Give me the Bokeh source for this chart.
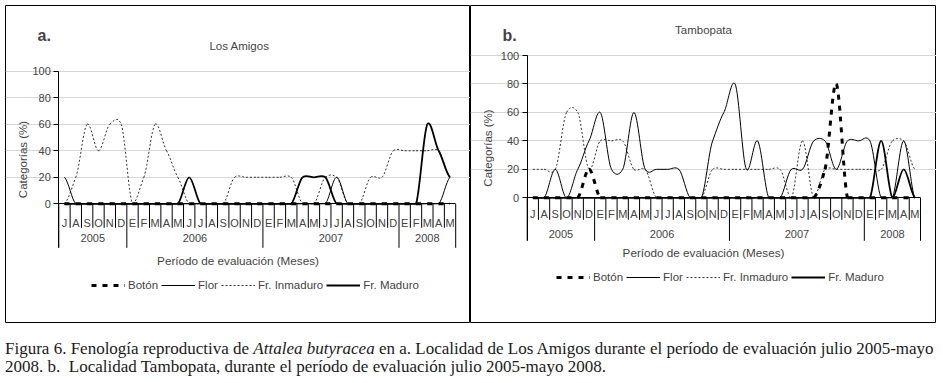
import numpy as np
from bokeh.plotting import figure
from bokeh.models import (Range1d, LinearAxis, FixedTicker, Grid, Legend, LegendItem,
                          Label, Div, ColumnDataSource, Spacer)
from bokeh.layouts import row, column
from bokeh.embed import file_html
from bokeh.resources import INLINE

# ---------------- data ----------------
months = ["J", "A", "S", "O", "N", "D",
          "E", "F", "M", "A", "M", "J", "J", "A", "S", "O", "N", "D",
          "E", "F", "M", "A", "M", "J", "J", "A", "S", "O", "N", "D",
          "E", "F", "M", "A", "M"]
years = ["2005", "2006", "2007", "2008"]
months_per_year = [6, 12, 12, 5]
series_names = ["Botón", "Flor", "Fr. Inmaduro", "Fr. Maduro"]

# a. Los Amigos (%)
amigos_boton = [0, 0, 0, 0, 0, 0,
                0, 0, 0, 0, 0, 0, 0, 0, 0, 0, 0, 0,
                0, 0, 0, 0, 0, 0, 0, 0, 0, 0, 0, 0,
                0, 0, 0, 0, 0]
amigos_flor = [20, 0, 0, 0, 0, 0,
               0, 0, 0, 0, 0, 0, 0, 0, 0, 0, 0, 0,
               0, 0, 0, 0, 0, 0, 20, 0, 0, 0, 0, 0,
               0, 0, 0, 0, 20]
amigos_inmaduro = [0, 20, 60, 40, 60, 60,
                   0, 20, 60, 40, 20, 0, 0, 0, 0, 20, 20, 20,
                   20, 20, 20, 0, 0, 20, 20, 0, 0, 20, 20, 40,
                   40, 40, 40, 40, 20]
amigos_maduro = [0, 0, 0, 0, 0, 0,
                 0, 0, 0, 0, 0, 20, 0, 0, 0, 0, 0, 0,
                 0, 0, 0, 20, 20, 20, 0, 0, 0, 0, 0, 0,
                 0, 0, 60, 40, 20]

# b. Tambopata (%)
tambo_boton = [0, 0, 0, 0, 0, 20,
               0, 0, 0, 0, 0, 0, 0, 0, 0, 0, 0, 0,
               0, 0, 0, 0, 0, 0, 0, 0, 20, 80, 0, 0,
               0, 0, 0, 0, 0]
tambo_flor = [0, 0, 20, 0, 20, 40,
              60, 20, 20, 60, 20, 20, 20, 20, 0, 0, 40, 60,
              80, 20, 40, 0, 0, 20, 20, 40, 40, 20, 40, 40,
              40, 0, 0, 40, 0]
tambo_inmaduro = [20, 20, 20, 60, 60, 20,
                  40, 40, 40, 20, 20, 0, 0, 0, 0, 0, 20, 20,
                  20, 20, 20, 20, 20, 0, 40, 0, 20, 20, 20, 20,
                  20, 20, 40, 40, 20]
tambo_maduro = [0, 0, 0, 0, 0, 0,
                0, 0, 0, 0, 0, 0, 0, 0, 0, 0, 0, 0,
                0, 0, 0, 0, 0, 0, 0, 0, 0, 0, 0, 0,
                0, 40, 0, 20, 0]

FONT = "Liberation Sans"
TENSION = 0.7

STYLES = {
    "Botón": dict(line_color="black", line_width=3, line_dash="5 6"),
    "Flor": dict(line_color="black", line_width=1),
    "Fr. Inmaduro": dict(line_color="#333333", line_width=1, line_dash="2 2"),
    "Fr. Maduro": dict(line_color="black", line_width=1.8),
}
DRAW_ORDER = ["Fr. Inmaduro", "Flor", "Fr. Maduro", "Botón"]


def smooth_source(ys):
    """Excel-like smoothed line: cubic Bezier segments between the monthly points."""
    y = np.asarray(ys, dtype=float)
    x = np.arange(len(y), dtype=float)
    ext = np.concatenate([[y[0]], y, [y[-1]]])
    m = TENSION * (ext[2:] - ext[:-2]) / 2.0
    cy0 = np.maximum(y[:-1] + m[:-1] / 3, 0)
    cy1 = np.maximum(y[1:] - m[1:] / 3, 0)
    return ColumnDataSource(dict(
        x0=x[:-1], y0=y[:-1], x1=x[1:], y1=y[1:],
        cx0=x[:-1] + 1 / 3, cy0=cy0, cx1=x[1:] - 1 / 3, cy1=cy1))


def make_panel(series, g):
    n = len(months)
    W, H = g["W"], g["H"]
    # pixel geometry of the plotting area inside this canvas
    left, right, top0, bot0 = g["plot_px"]        # x of first/last month edge, y of 100 and 0
    ux = (right - left) / n
    uy = (bot0 - top0) / 100.0
    x_start = -0.5 - left / ux
    x_end = n - 0.5 + (W - right) / ux
    y_start = -(H - bot0) / uy
    y_end = 100 + top0 / uy

    p = figure(width=W, height=H,
               x_range=Range1d(x_start, x_end), y_range=Range1d(y_start, y_end),
               x_axis_type=None, y_axis_type=None,
               output_backend="svg", toolbar_location=None, min_border=0)
    p.outline_line_color = "black"
    p.outline_line_width = 1
    p.background_fill_color = "white"
    p.border_fill_color = "white"

    y_month_sep = -g["sep_m"] / uy
    y_year_sep = -g["sep_y"] / uy

    # y axis + grid
    yaxis = LinearAxis(ticker=FixedTicker(ticks=[0, 20, 40, 60, 80, 100]),
                       fixed_location=-0.5, bounds=(y_year_sep, 100),
                       axis_label="Categorías (%)",
                       axis_label_text_font=FONT, axis_label_text_font_size="11.5px",
                       axis_label_text_font_style="normal", axis_label_standoff=g["st_yl"],
                       major_label_text_font=FONT, major_label_text_font_size="11px",
                       major_tick_out=5, major_tick_in=0, major_label_standoff=3,
                       minor_tick_line_color=None, axis_line_color="black",
                       major_tick_line_color="black")
    p.add_layout(yaxis, "left")
    p.add_layout(Grid(dimension=1, ticker=FixedTicker(ticks=[20, 40, 60, 80, 100]),
                      bounds=(-0.5, n - 0.5),
                      grid_line_color="#d6d6d6", grid_line_width=1))

    # two-level category axis (months / years) like Excel's
    cum = np.cumsum([0] + months_per_year)
    year_bounds = [float(c) - 0.5 for c in cum]
    month_bounds = [i - 0.5 for i in range(1, n) if (i - 0.5) not in year_bounds]
    year_centers = [float(cum[i] + cum[i + 1] - 1) / 2 for i in range(len(years))]

    p.segment(x0=month_bounds, x1=month_bounds, y0=0, y1=y_month_sep,
              line_color="black", line_width=1)
    p.segment(x0=year_bounds, x1=year_bounds, y0=0, y1=y_year_sep,
              line_color="black", line_width=1)

    common = dict(fixed_location=0, minor_tick_line_color=None,
                  major_label_text_font=FONT, major_label_text_font_size="11px")
    ax_mon = LinearAxis(ticker=FixedTicker(ticks=list(range(n))),
                        major_label_overrides={i: months[i] for i in range(n)},
                        major_tick_out=0, major_tick_in=0, major_tick_line_color=None,
                        axis_line_color="black", bounds=(-0.5, n - 0.5),
                        major_label_standoff=g["st_m"], **common)
    ax_year = LinearAxis(ticker=FixedTicker(ticks=year_centers),
                         major_label_overrides={year_centers[i]: years[i] for i in range(len(years))},
                         major_tick_out=0, major_tick_in=0, major_tick_line_color=None,
                         axis_line_color=None, major_label_standoff=g["st_y"], **common)
    ax_title = LinearAxis(ticker=FixedTicker(ticks=[]), major_tick_out=0, major_tick_in=0,
                          major_tick_line_color=None, axis_line_color=None,
                          major_label_standoff=0,
                          axis_label="Período de evaluación (Meses)",
                          axis_label_text_font=FONT, axis_label_text_font_size="11.7px",
                          axis_label_text_font_style="normal",
                          axis_label_standoff=g["st_t"], fixed_location=0,
                          minor_tick_line_color=None)
    for ax in (ax_mon, ax_year, ax_title):
        p.add_layout(ax, "below")

    # series
    renderers = {}
    for name in DRAW_ORDER:
        src = smooth_source(series[name])
        renderers[name] = p.bezier(x0="x0", y0="y0", x1="x1", y1="y1",
                                   cx0="cx0", cy0="cy0", cx1="cx1", cy1="cy1",
                                   source=src, **STYLES[name])

    legend = Legend(items=[LegendItem(label=nm, renderers=[renderers[nm]]) for nm in series_names],
                    orientation="horizontal", location=g["leg"],
                    glyph_width=34, glyph_height=12, label_standoff=3, spacing=3,
                    padding=0, margin=0, border_line_color=None,
                    background_fill_alpha=0, label_text_font=FONT,
                    label_text_font_size="11.5px", label_height=12)
    p.add_layout(legend)

    p.add_layout(Label(x=g["letter"][0], y=g["letter"][1], x_units="screen", y_units="screen",
                       text=g["letter_text"], text_font=FONT, text_font_size="16px",
                       text_font_style="bold", text_baseline="middle", text_align="left"))
    p.add_layout(Label(x=g["title"][0], y=g["title"][1], x_units="screen", y_units="screen",
                       text=g["title_text"], text_font=FONT, text_font_size="11.5px",
                       text_baseline="middle", text_align="center"))
    return p


# canvas a starts at page (5,5); canvas b at page (470,5)
geom_a = dict(W=465, H=318, plot_px=(53.3, 450.2, 65.7, 198.3),
              sep_m=24, sep_y=44, st_m=13, st_y=30, st_t=50, st_yl=0,
              leg=(86, 32), letter=(32, 288), letter_text="a.",
              title=(234, 278), title_text="Los Amigos")
geom_b = dict(W=466, H=318, plot_px=(56.7, 450.0, 50.0, 192.3),
              sep_m=22, sep_y=43, st_m=10, st_y=32, st_t=48, st_yl=4,
              leg=(86, 40), letter=(32, 288), letter_text="b.",
              title=(233, 294), title_text="Tambopata")

pa = make_panel({"Botón": amigos_boton, "Flor": amigos_flor,
                 "Fr. Inmaduro": amigos_inmaduro, "Fr. Maduro": amigos_maduro}, geom_a)
pb = make_panel({"Botón": tambo_boton, "Flor": tambo_flor,
                 "Fr. Inmaduro": tambo_inmaduro, "Fr. Maduro": tambo_maduro}, geom_b)

caption = Div(
    text=('<div style="margin-top:12px; font-family:\'Liberation Serif\'; font-size:17px; '
          'line-height:17.5px; white-space:nowrap; color:#1a1a1a;">'
          'Figura 6. Fenología reproductiva de <i>Attalea butyracea</i> en a. Localidad de Los Amigos '
          'durante el período de evaluación julio 2005-mayo<br>'
          '2008. b.&nbsp; Localidad Tambopata, durante el período de evaluación julio 2005-mayo 2008.'
          '</div>'),
    width=940, height=52)

layout = column(Spacer(height=5),
                row(Spacer(width=5), pa, pb, spacing=0),
                caption,
                spacing=0)

open("out.html", "w").write(file_html(layout, INLINE))
